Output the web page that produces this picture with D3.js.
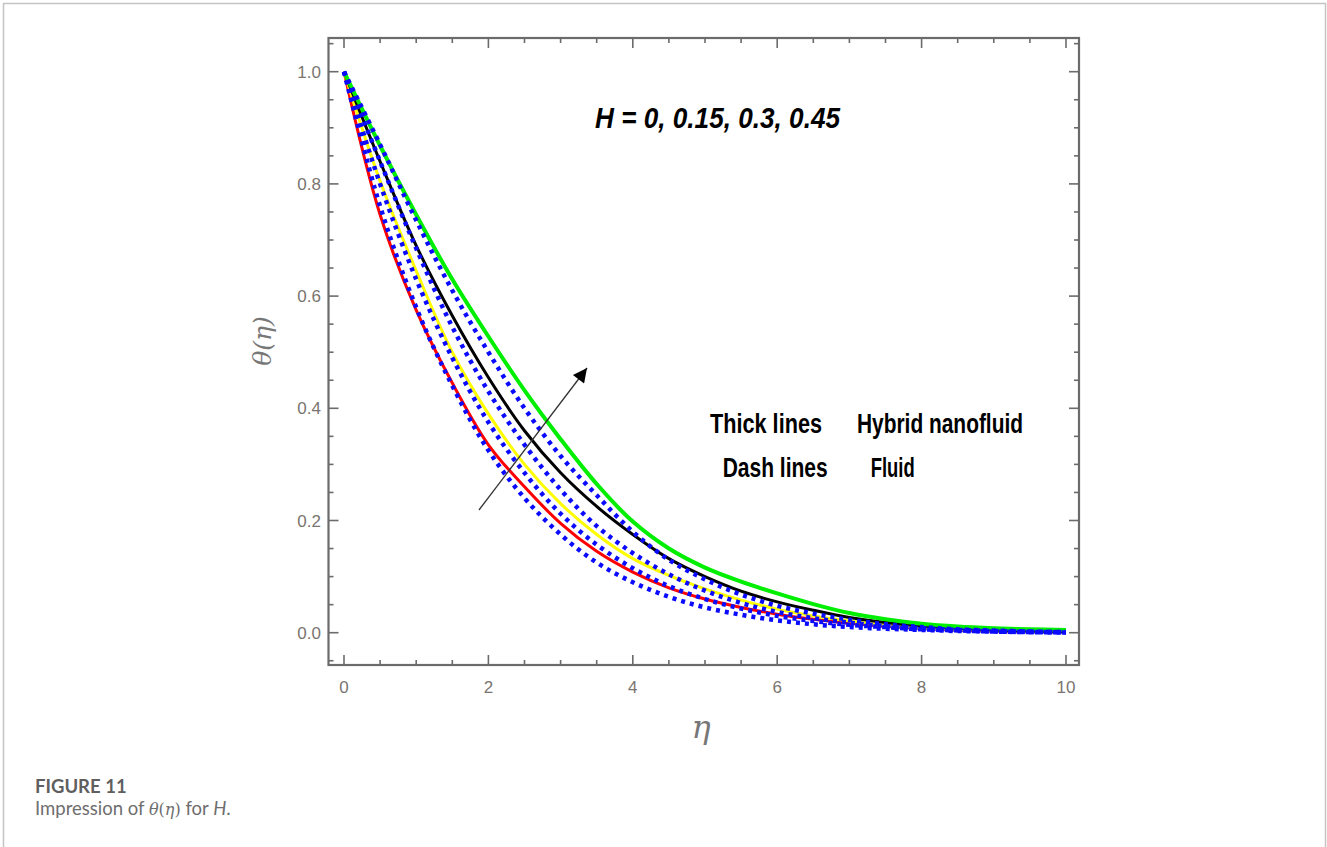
<!DOCTYPE html>
<html>
<head>
<meta charset="utf-8">
<script src="https://cdn.jsdelivr.net/npm/d3@7"></script>
<style>
  html, body { margin: 0; padding: 0; background: #fff; }
  svg { display: block; }
</style>
</head>
<body>
<svg id="chart" width="1327" height="847"></svg>
<script>
// ---- data ----
const eta = [0, 0.5, 1, 1.5, 2, 2.5, 3, 3.5, 4, 4.5, 5, 5.5, 6, 6.5, 7, 7.5, 8, 8.5, 9, 9.5, 10];

// Thick lines: hybrid nanofluid, H = 0, 0.15, 0.3, 0.45
const hybridH0    = [1, 0.745, 0.575, 0.445, 0.335, 0.26, 0.195, 0.145, 0.108, 0.08, 0.06, 0.045, 0.033, 0.024, 0.017, 0.012, 0.008, 0.005, 0.003, 0.002, 0.001];
const hybridH015  = [1, 0.805, 0.645, 0.50, 0.39, 0.30, 0.23, 0.175, 0.132, 0.102, 0.078, 0.058, 0.042, 0.03, 0.021, 0.014, 0.009, 0.006, 0.004, 0.002, 0.001];
const hybridH03   = [1, 0.84, 0.69, 0.565, 0.455, 0.36, 0.285, 0.225, 0.175, 0.132, 0.10, 0.074, 0.055, 0.04, 0.027, 0.018, 0.012, 0.008, 0.005, 0.003, 0.002];
const hybridH045  = [1, 0.868, 0.745, 0.63, 0.528, 0.432, 0.345, 0.265, 0.198, 0.15, 0.116, 0.091, 0.07, 0.051, 0.035, 0.024, 0.016, 0.011, 0.008, 0.006, 0.005];

// Dash lines: fluid, H = 0, 0.15, 0.3, 0.45
const fluidH0     = [1, 0.76, 0.58, 0.44, 0.325, 0.24, 0.175, 0.125, 0.09, 0.064, 0.045, 0.032, 0.022, 0.015, 0.01, 0.007, 0.005, 0.003, 0.002, 0.001, 0];
const fluidH015   = [1, 0.80, 0.63, 0.49, 0.375, 0.285, 0.212, 0.157, 0.115, 0.083, 0.06, 0.043, 0.03, 0.021, 0.014, 0.01, 0.006, 0.004, 0.002, 0.001, 0.0005];
const fluidH03    = [1, 0.84, 0.685, 0.545, 0.43, 0.335, 0.255, 0.19, 0.142, 0.104, 0.075, 0.053, 0.037, 0.026, 0.018, 0.012, 0.008, 0.005, 0.003, 0.002, 0.001];
const fluidH045   = [1, 0.87, 0.735, 0.61, 0.50, 0.40, 0.315, 0.245, 0.18, 0.13, 0.095, 0.068, 0.048, 0.034, 0.023, 0.015, 0.01, 0.006, 0.004, 0.002, 0.001];

const hybridSeries = [hybridH0, hybridH015, hybridH03, hybridH045];
const fluidSeries  = [fluidH0, fluidH015, fluidH03, fluidH045];
const hybridColors = ["#ff0000", "#ffff00", "#000000", "#00ee00"];

const xTickValues = [0, 2, 4, 6, 8, 10];
const yTickValues = [0.0, 0.2, 0.4, 0.6, 0.8, 1.0];

const annotationText = "H = 0, 0.15, 0.3, 0.45";
const legendText = [["Thick lines", "Hybrid nanofluid"], ["Dash lines", "Fluid"]];

// ---- layout ----
const svg = d3.select("#chart");
const frame = { left: 328.5, right: 1079, top: 38, bottom: 665 };

const x = d3.scaleLinear().domain([0, 10]).range([344, 1066]);
const y = d3.scaleLinear().domain([0, 1]).range([632.7, 71.7]);

// card border
svg.append("rect")
  .attr("x", 3.5).attr("y", 3.5)
  .attr("width", 1322).attr("height", 900)
  .attr("fill", "none").attr("stroke", "#c4c4c4").attr("stroke-width", 1.5);

const axisColor = "#6b6b6b";
const labelColor = "#7a7570";

// clip
svg.append("defs").append("clipPath").attr("id", "plotclip")
  .append("rect")
  .attr("x", frame.left).attr("y", frame.top)
  .attr("width", frame.right - frame.left).attr("height", frame.bottom - frame.top);

// ---- ticks (inward, all four sides) ----
const g = svg.append("g");
const xMinor = d3.range(0, 10.001, 0.5);
const yMinor = d3.range(-0.05, 1.051, 0.05).map(v => Math.round(v * 100) / 100);
const isMajorX = v => Math.abs(v / 2 - Math.round(v / 2)) < 1e-6;
const isMajorY = v => Math.abs(v / 0.2 - Math.round(v / 0.2)) < 1e-6;

xMinor.forEach(v => {
  const L = isMajorX(v) ? 10 : 5;
  g.append("line").attr("x1", x(v)).attr("x2", x(v)).attr("y1", frame.bottom).attr("y2", frame.bottom - L)
    .attr("stroke", axisColor).attr("stroke-width", 1.6);
  g.append("line").attr("x1", x(v)).attr("x2", x(v)).attr("y1", frame.top).attr("y2", frame.top + L)
    .attr("stroke", axisColor).attr("stroke-width", 1.6);
});
yMinor.forEach(v => {
  const L = isMajorY(v) ? 10 : 5;
  g.append("line").attr("y1", y(v)).attr("y2", y(v)).attr("x1", frame.left).attr("x2", frame.left + L)
    .attr("stroke", axisColor).attr("stroke-width", 1.6);
  g.append("line").attr("y1", y(v)).attr("y2", y(v)).attr("x1", frame.right).attr("x2", frame.right - L)
    .attr("stroke", axisColor).attr("stroke-width", 1.6);
});

// frame
g.append("rect")
  .attr("x", frame.left).attr("y", frame.top)
  .attr("width", frame.right - frame.left).attr("height", frame.bottom - frame.top)
  .attr("fill", "none").attr("stroke", axisColor).attr("stroke-width", 2.2);

// tick labels
g.selectAll(".xl").data(xTickValues).enter().append("text")
  .attr("x", d => x(d)).attr("y", 693)
  .attr("text-anchor", "middle")
  .attr("font-family", "Liberation Sans, Arial, sans-serif")
  .attr("font-size", 17).attr("fill", labelColor)
  .text(d => d3.format("d")(d));

g.selectAll(".yl").data(yTickValues).enter().append("text")
  .attr("x", 321).attr("y", d => y(d) + 6)
  .attr("text-anchor", "end")
  .attr("font-family", "Liberation Sans, Arial, sans-serif")
  .attr("font-size", 17).attr("fill", labelColor)
  .text(d => d3.format(".1f")(d));

// axis titles
svg.append("text")
  .attr("transform", "translate(271,341) rotate(-90)")
  .attr("text-anchor", "middle")
  .attr("font-family", "DejaVu Serif, serif")
  .attr("font-style", "italic")
  .attr("font-size", 25).attr("fill", "#777")
  .text("θ(η)");

svg.append("text")
  .attr("x", 701).attr("y", 738)
  .attr("text-anchor", "middle")
  .attr("font-family", "DejaVu Serif, serif")
  .attr("font-style", "italic")
  .attr("font-size", 32).attr("fill", "#777")
  .text("η");

// ---- curves ----
const line = d3.line()
  .x((d, i) => x(eta[i]))
  .y(d => y(d))
  .curve(d3.curveCatmullRom.alpha(0.5));

const plot = svg.append("g").attr("clip-path", "url(#plotclip)");

hybridSeries.forEach((s, k) => {
  plot.append("path")
    .datum(s)
    .attr("d", line)
    .attr("fill", "none")
    .attr("stroke", hybridColors[k])
    .attr("stroke-width", k === 3 ? 4 : 3);
});

fluidSeries.forEach(s => {
  plot.append("path")
    .datum(s)
    .attr("d", line)
    .attr("fill", "none")
    .attr("stroke", "#0a0aff")
    .attr("stroke-width", 4.5)
    .attr("stroke-dasharray", "4,5");
});

// ---- arrow ----
const defs = svg.select("defs");
defs.append("marker")
  .attr("id", "ah")
  .attr("viewBox", "0 0 10 10")
  .attr("refX", 10).attr("refY", 5)
  .attr("markerWidth", 22).attr("markerHeight", 14)
  .attr("markerUnits", "userSpaceOnUse")
  .attr("orient", "auto")
  .append("path").attr("d", "M0,0 L10,5 L0,10 Z").attr("fill", "#000");

svg.append("line")
  .attr("x1", 479).attr("y1", 510)
  .attr("x2", 587).attr("y2", 368)
  .attr("stroke", "#333").attr("stroke-width", 1.3)
  .attr("marker-end", "url(#ah)");

// ---- annotations ----
svg.append("text")
  .attr("x", 595).attr("y", 128)
  .attr("font-family", "Liberation Sans, Arial, sans-serif")
  .attr("font-weight", "bold").attr("font-style", "italic")
  .attr("font-size", 30).attr("fill", "#000")
  .attr("textLength", 245).attr("lengthAdjust", "spacingAndGlyphs")
  .text(annotationText);

const legPos = [
  [{ x: 710, w: 112 }, { x: 857, w: 166 }],
  [{ x: 722.7, w: 105 }, { x: 870.7, w: 44 }]
];
const legBase = [433, 477];
legendText.forEach((row, r) => {
  row.forEach((t, c) => {
    svg.append("text")
      .attr("x", legPos[r][c].x).attr("y", legBase[r])
      .attr("font-family", "Liberation Sans, Arial, sans-serif")
      .attr("font-weight", "bold")
      .attr("font-size", 28).attr("fill", "#000")
      .attr("textLength", legPos[r][c].w).attr("lengthAdjust", "spacingAndGlyphs")
      .text(t);
  });
});

// ---- caption ----
svg.append("text")
  .attr("x", 35).attr("y", 793)
  .attr("font-family", "Lato, Open Sans, sans-serif")
  .attr("font-weight", "bold")
  .attr("font-size", 18.5).attr("fill", "#5f5f5f")
  .text("FIGURE 11");

const cap = svg.append("text")
  .attr("x", 35).attr("y", 815)
  .attr("font-family", "Lato, Open Sans, sans-serif")
  .attr("font-size", 18.5).attr("fill", "#6e6e6e");
cap.append("tspan").text("Impression of ");
cap.append("tspan").attr("font-family", "DejaVu Serif, serif").attr("font-style", "italic").attr("font-size", 16).text("θ");
cap.append("tspan").attr("font-family", "DejaVu Serif, serif").attr("font-size", 16).text("(");
cap.append("tspan").attr("font-family", "DejaVu Serif, serif").attr("font-style", "italic").attr("font-size", 16).text("η");
cap.append("tspan").attr("font-family", "DejaVu Serif, serif").attr("font-size", 16).text(")");
cap.append("tspan").text(" for ");
cap.append("tspan").attr("font-style", "italic").text("H");
cap.append("tspan").text(".");
</script>
</body>
</html>
